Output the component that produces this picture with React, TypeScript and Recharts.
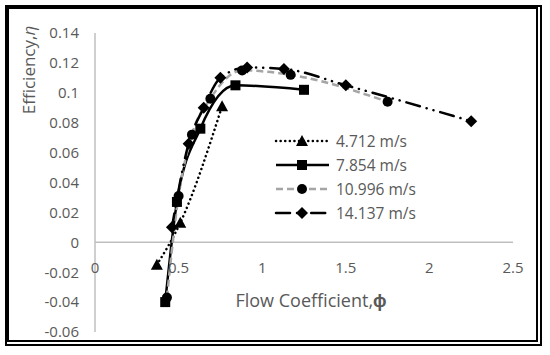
import React from "react";
import {
  LineChart,
  Line,
  XAxis,
  YAxis,
  ReferenceLine,
  Legend,
} from "recharts";

// flow coefficient / efficiency readings per tip speed
const phi4712 = [0.37, 0.51, 0.76];
const eta4712 = [-0.015, 0.013, 0.091];

const phi7854 = [0.42, 0.49, 0.63, 0.84, 1.25];
const eta7854 = [-0.04, 0.027, 0.076, 0.105, 0.102];

const phi10996 = [0.43, 0.5, 0.58, 0.69, 0.88, 1.17, 1.75];
const eta10996 = [-0.037, 0.031, 0.072, 0.096, 0.115, 0.112, 0.094];

const phi14137 = [0.46, 0.56, 0.65, 0.75, 0.91, 1.13, 1.5, 2.25];
const eta14137 = [0.01, 0.066, 0.09, 0.11, 0.117, 0.116, 0.105, 0.081];

const xTicks = [0, 0.5, 1, 1.5, 2, 2.5];
const yTicks = [-0.06, -0.04, -0.02, 0, 0.02, 0.04, 0.06, 0.08, 0.1, 0.12, 0.14];

const FONT = "'Open Sans', sans-serif";
const TXT = "#595959";
const AXIS = "#BFBFBF";

const W = 550;
const H = 355;
const TOP = 33;
const BOTTOM = 22;
const LEFT = 95;
const RIGHT = 37;
const PLOT_H = H - TOP - BOTTOM - 1;
const ZERO_Y = TOP + (0.14 / 0.2) * PLOT_H;

const pts = (xs: number[], ys: number[]) => xs.map((phi, i) => ({ phi, eta: ys[i] }));

type Shape = "tri" | "sq" | "circ" | "dia";

function marker(shape: Shape, cx: number, cy: number, key?: string | number) {
  if (shape === "tri")
    return <path key={key} d={`M${cx},${cy - 6} L${cx + 6},${cy + 5} L${cx - 6},${cy + 5} Z`} fill="#000" />;
  if (shape === "sq") return <rect key={key} x={cx - 5} y={cy - 5} width={10} height={10} fill="#000" />;
  if (shape === "circ") return <circle key={key} cx={cx} cy={cy} r={5} fill="#000" />;
  return <path key={key} d={`M${cx},${cy - 6} L${cx + 6},${cy} L${cx},${cy + 6} L${cx - 6},${cy} Z`} fill="#000" />;
}

const dotFor = (shape: Shape) => (p: any) => marker(shape, p.cx, p.cy, p.index);

const series = [
  { name: "4.712 m/s", data: pts(phi4712, eta4712), stroke: "#000", dash: "0.1 4.5", shape: "tri" as Shape },
  { name: "7.854 m/s", data: pts(phi7854, eta7854), stroke: "#000", dash: undefined, shape: "sq" as Shape },
  { name: "10.996 m/s", data: pts(phi10996, eta10996), stroke: "#A5A5A5", dash: "7 4", shape: "circ" as Shape },
  { name: "14.137 m/s", data: pts(phi14137, eta14137), stroke: "#000", dash: "14 7 0.1 7 0.1 7", shape: "dia" as Shape },
];

function LegendBox() {
  return (
    <div style={{ fontFamily: FONT, fontSize: 15.5, color: TXT }}>
      {series.map((s) => (
        <div key={s.name} style={{ display: "flex", alignItems: "center", height: 24 }}>
          <svg width={58} height={20}>
            <line
              x1={2}
              y1={10}
              x2={55}
              y2={10}
              stroke={s.stroke}
              strokeWidth={2.5}
              strokeDasharray={s.dash}
              strokeLinecap={s.dash && s.dash.includes("0.1") ? "round" : "butt"}
            />
            {marker(s.shape, 28, 10)}
          </svg>
          <span style={{ marginLeft: 4 }}>{s.name}</span>
        </div>
      ))}
    </div>
  );
}

function XTick({ x, payload }: any) {
  return (
    <text x={x} y={ZERO_Y + 25} textAnchor="middle" dominantBaseline="central" fill={TXT} fontSize={15} fontFamily={FONT}>
      {payload.value}
    </text>
  );
}

export default function App() {
  return (
    <div style={{ position: "fixed", left: 0, top: 0, width: W, height: H, background: "#fff" }}>
      <div
        style={{
          position: "absolute",
          left: 5,
          top: 5,
          width: 537,
          height: 341,
          boxSizing: "border-box",
          borderTop: "4px solid #000",
          borderLeft: "4px solid #000",
          borderRight: "6px double #000",
          borderBottom: "6px double #000",
        }}
      />
      <div style={{ position: "absolute", left: 0, top: 0 }}>
        <LineChart width={W} height={H} margin={{ top: TOP, right: RIGHT, bottom: BOTTOM, left: 0 }}>
          <XAxis
            type="number"
            dataKey="phi"
            domain={[0, 2.5]}
            ticks={xTicks}
            height={1}
            axisLine={false}
            tickLine={false}
            tick={<XTick />}
            interval={0}
            label={{
              content: () => (
                <text x={311} y={300} textAnchor="middle" dominantBaseline="central" fill={TXT} fontSize={18} fontFamily={FONT}>
                  Flow Coefficient,<tspan fontWeight="bold">ϕ</tspan>
                </text>
              ),
            }}
          />
          <YAxis
            type="number"
            dataKey="eta"
            domain={[-0.06, 0.14]}
            ticks={yTicks}
            width={LEFT}
            interval={0}
            axisLine={{ stroke: AXIS, strokeWidth: 1.5 }}
            tickLine={false}
            tickSize={0}
            tickMargin={16}
            tick={{ fill: TXT, fontSize: 15, fontFamily: FONT }}
            tickFormatter={(v: number) => String(Number(v.toFixed(2)))}
            label={{
              content: () => (
                <text
                  x={28}
                  y={70}
                  textAnchor="middle"
                  dominantBaseline="central"
                  transform="rotate(-90, 28, 70)"
                  fill={TXT}
                  fontSize={17}
                  fontFamily={FONT}
                >
                  Efficiency,<tspan fontStyle="italic">η</tspan>
                </text>
              ),
            }}
          />
          <ReferenceLine y={0} stroke={AXIS} strokeWidth={1.5} />
          {series.map((s) => (
            <Line
              key={s.name}
              name={s.name}
              data={s.data}
              dataKey="eta"
              type="monotone"
              stroke={s.stroke}
              strokeWidth={2.5}
              strokeDasharray={s.dash}
              strokeLinecap={s.dash && s.dash.includes("0.1") ? "round" : "butt"}
              dot={dotFor(s.shape)}
              activeDot={false}
              isAnimationActive={false}
            />
          ))}
          <Legend
            layout="vertical"
            align="center"
            verticalAlign="middle"
            content={<LegendBox />}
            wrapperStyle={{ left: 274, top: 129, width: 170 }}
          />
        </LineChart>
      </div>
    </div>
  );
}
